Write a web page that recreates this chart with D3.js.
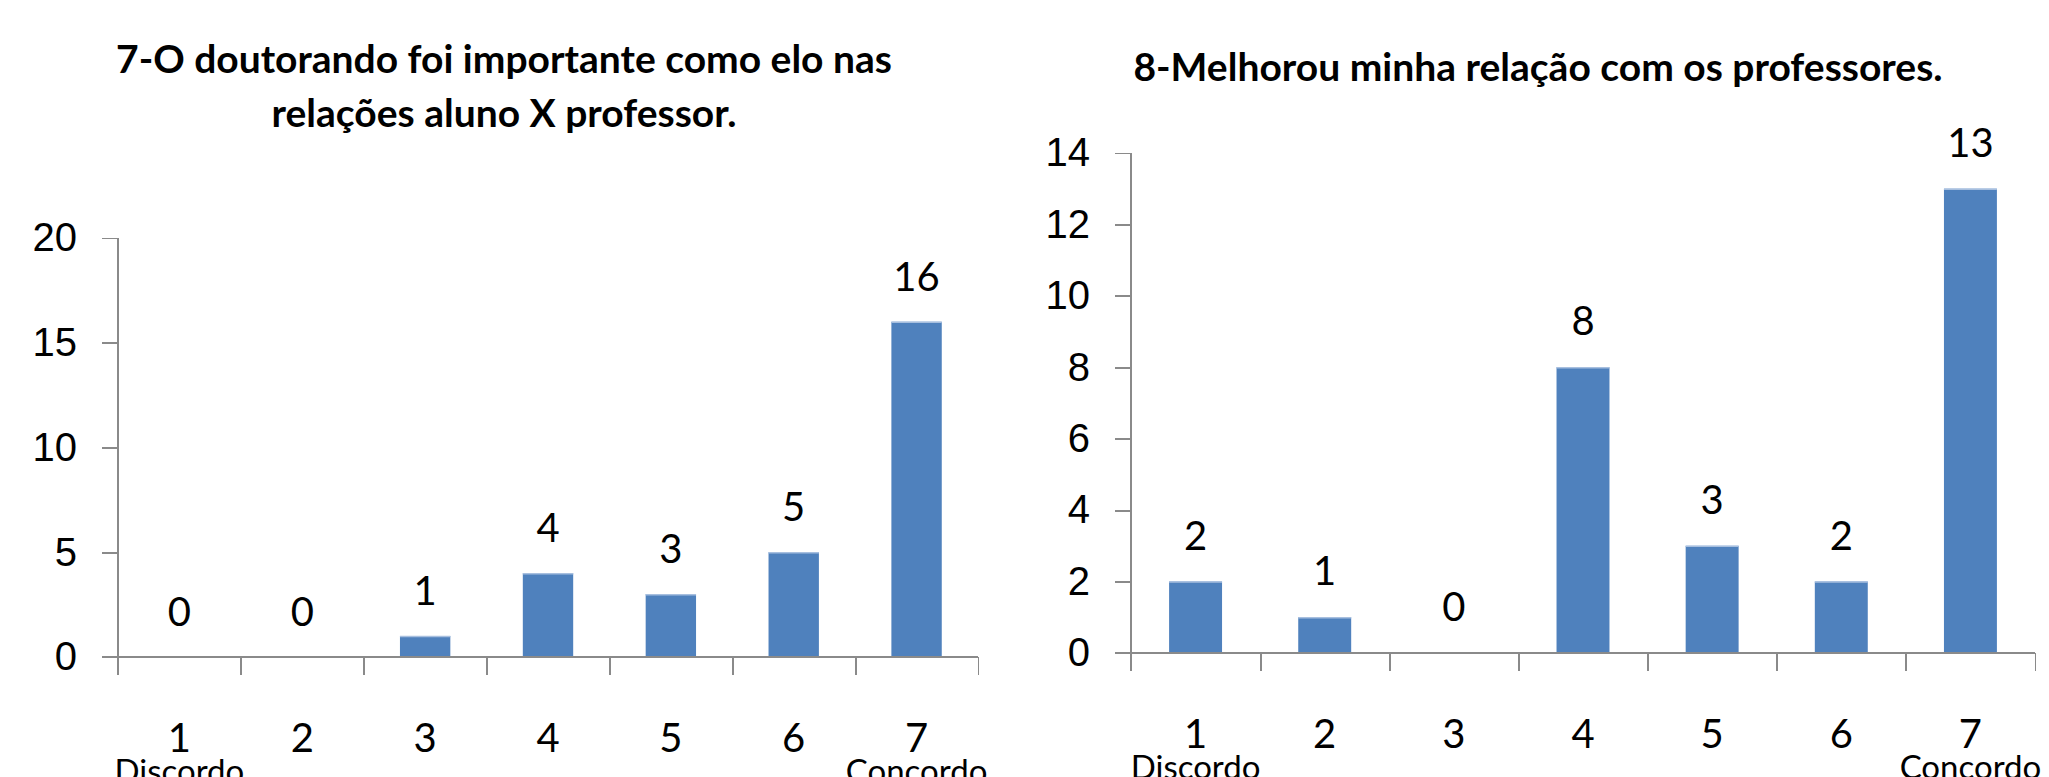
<!DOCTYPE html>
<html lang='pt'>
<head>
  <meta charset='UTF-8'>
  <title>Doutorando - questões 7 e 8</title>
  <style type='text/css'>
    html, body {
      margin: 0;
      padding: 0;
      background: #fff;
    }
    svg {
      display: block;
      font-family: Lato, 'Open Sans', sans-serif;
    }
    .axis path,
    .axis line {
      stroke: #8a8a8a;
      stroke-width: 1.8px;
      shape-rendering: crispEdges;
    }
    .axis text {
      font-size: 40px;
      fill: #000;
    }
    .title {
      font-weight: 700;
      font-size: 39px;
      text-anchor: middle;
    }
    .value-label,
    .cat-label {
      font-size: 40px;
      text-anchor: middle;
    }
    .end-label {
      font-size: 33px;
      text-anchor: middle;
    }
  </style>
  <script type='text/javascript' src='https://cdnjs.cloudflare.com/ajax/libs/d3/7.8.5/d3.min.js'></script>
</head>
<body>
  <script type='text/javascript'>
    const categories = ['1', '2', '3', '4', '5', '6', '7']
    const scaleEnds = ['Discordo', 'Concordo']

    const q7Title = ['7-O doutorando foi importante como elo nas', 'relações aluno X professor.']
    const q7Values = [0, 0, 1, 4, 3, 5, 16]
    const q7Ticks = [0, 5, 10, 15, 20]

    const q8Title = ['8-Melhorou minha relação com os professores.']
    const q8Values = [2, 1, 0, 8, 3, 2, 13]
    const q8Ticks = [0, 2, 4, 6, 8, 10, 12, 14]

    const barColor = '#4f81bd'

    const svg = d3.select('body').append('svg')
      .attr('width', 2049)
      .attr('height', 777)

    svg.append('rect')
      .attr('width', 2049)
      .attr('height', 777)
      .attr('fill', '#fff')

    const drawChart = (opts) => {
      const g = svg.append('g')
      const data = opts.values.map((v, i) => ({cat: categories[i], value: v}))

      const x = d3.scaleBand()
        .domain(categories)
        .range([opts.left, opts.right])
        .paddingInner(0.59)
        .paddingOuter(0.295)

      const xEdges = d3.scaleLinear()
        .domain([0, categories.length])
        .range([opts.left, opts.right])

      const y = d3.scaleLinear()
        .domain([0, d3.max(opts.ticks)])
        .range([opts.bottom, opts.top])

      // titulo
      g.selectAll('.title')
        .data(opts.title)
        .enter().append('text')
        .attr('class', 'title')
        .attr('x', opts.titleX)
        .attr('y', (d, i) => opts.titleY + i * 54)
        .text(d => d)

      // eixo y
      g.append('g')
        .attr('class', 'axis y-axis')
        .attr('transform', `translate(${opts.left},0)`)
        .call(d3.axisLeft(y)
          .tickValues(opts.ticks)
          .tickSize(16)
          .tickSizeOuter(0)
          .tickPadding(25))
        .call(a => a.select('.domain').attr('d', `M0,${opts.top}V${opts.bottom + 18}`))

      // eixo x (marcas entre categorias)
      g.append('g')
        .attr('class', 'axis x-axis')
        .attr('transform', `translate(0,${opts.bottom})`)
        .call(d3.axisBottom(xEdges)
          .tickValues(d3.range(categories.length + 1))
          .tickFormat('')
          .tickSize(18)
          .tickSizeOuter(0))
        .call(a => a.select('.domain').attr('d', `M${opts.left - 16},0H${opts.right}`))

      // barras
      g.selectAll('.bar')
        .data(data.filter(d => d.value > 0))
        .enter().append('rect')
        .attr('class', 'bar')
        .attr('x', d => x(d.cat))
        .attr('y', d => y(d.value))
        .attr('width', x.bandwidth())
        .attr('height', d => y(0) - y(d.value) - 1)
        .attr('fill', barColor)

      g.selectAll('.bar-top')
        .data(data.filter(d => d.value > 0))
        .enter().append('line')
        .attr('class', 'bar-top')
        .attr('x1', d => x(d.cat))
        .attr('x2', d => x(d.cat) + x.bandwidth())
        .attr('y1', d => y(d.value) + 0.5)
        .attr('y2', d => y(d.value) + 0.5)
        .attr('stroke', '#a7bfdf')
        .attr('stroke-width', 1.5)

      // rotulos de valor
      g.selectAll('.value-label')
        .data(data)
        .enter().append('text')
        .attr('class', 'value-label')
        .attr('x', d => x(d.cat) + x.bandwidth() / 2)
        .attr('y', d => y(d.value) - opts.labelGap)
        .text(d => d.value)

      // categorias
      g.selectAll('.cat-label')
        .data(categories)
        .enter().append('text')
        .attr('class', 'cat-label')
        .attr('x', d => x(d) + x.bandwidth() / 2)
        .attr('y', opts.bottom + 95)
        .text(d => d)

      g.selectAll('.end-label')
        .data(scaleEnds)
        .enter().append('text')
        .attr('class', 'end-label')
        .attr('x', (d, i) => x(i === 0 ? categories[0] : categories[categories.length - 1]) + x.bandwidth() / 2)
        .attr('y', opts.bottom + 126)
        .text(d => d)
    }

    drawChart({
      title: q7Title, values: q7Values, ticks: q7Ticks,
      left: 118, right: 978, top: 238, bottom: 657,
      titleX: 504, titleY: 73, labelGap: 31
    })

    drawChart({
      title: q8Title, values: q8Values, ticks: q8Ticks,
      left: 1131, right: 2035, top: 153, bottom: 653,
      titleX: 1538, titleY: 81, labelGap: 32
    })
  </script>
</body>
</html>
